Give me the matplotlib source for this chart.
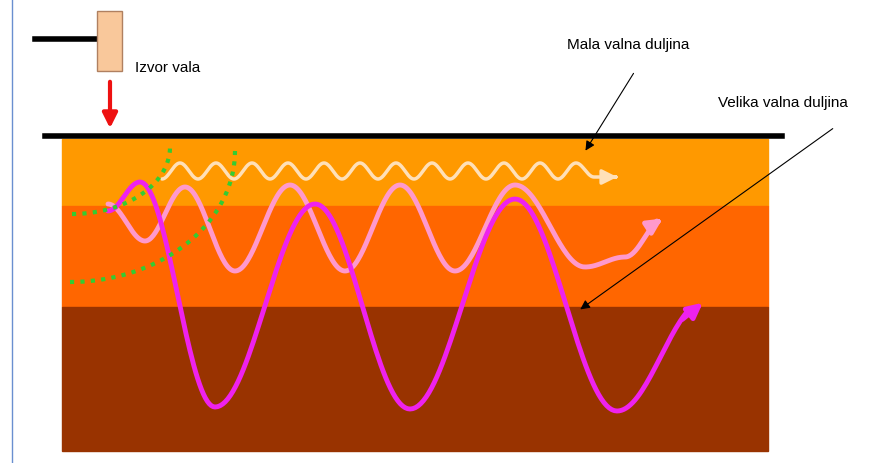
import numpy as np
import matplotlib.pyplot as plt
from matplotlib.patches import Rectangle, FancyArrowPatch

# layers: (top, bottom, colour)
layers = [(140, 207, '#FF9900'), (207, 308, '#FF6600'), (308, 452, '#993300')]

# wave extrema (x, y) in picture pixels
small_wave = [(162, 180), (180, 164), (198, 180), (216, 164), (234, 180), (252, 164), (270, 180),
              (288, 164), (306, 180), (324, 164), (342, 180), (360, 164), (378, 180), (396, 164),
              (414, 180), (432, 164), (450, 180), (468, 164), (486, 180), (504, 164), (522, 180),
              (540, 164), (558, 180), (576, 164), (594, 178), (620, 178)]
mid_wave = [(108, 205), (145, 242), (185, 188), (235, 272), (290, 186), (345, 272), (400, 186),
            (455, 272), (515, 186), (585, 268), (625, 258), (665, 218)]
big_wave = [(108, 212), (140, 183), (215, 408), (315, 205), (410, 410), (515, 200), (617, 412),
            (705, 302)]
# green wavefronts: (centre x, centre y, radius x, radius y)
fronts = [(72, 148, 98, 67), (70, 152, 165, 131)]


def smooth(pts, n=40):
    xs, ys = [], []
    for (x0, y0), (x1, y1) in zip(pts[:-1], pts[1:]):
        t = np.linspace(0, 1, n)
        s = (1 - np.cos(np.pi * t)) / 2
        xs.extend(x0 + (x1 - x0) * t)
        ys.extend(y0 + (y1 - y0) * s)
    return np.array(xs), np.array(ys)


fig = plt.figure(figsize=(8.84, 4.64), dpi=100)
ax = fig.add_axes([0, 0, 1, 1])
ax.set_xlim(0, 884)
ax.set_ylim(464, 0)
ax.axis('off')

for top, bot, col in layers:
    ax.add_patch(Rectangle((62, top), 706, bot - top, color=col, zorder=1))

ax.plot([12, 12], [0, 464], color='#6A8FD0', lw=1)
ax.plot([45, 782], [137, 137], color='black', lw=4, zorder=3)

# source
ax.plot([35, 97], [40, 40], color='black', lw=4)
ax.add_patch(Rectangle((97, 12), 25, 60, facecolor='#F9C89B', edgecolor='#B08060', lw=1, zorder=3))
ax.add_patch(FancyArrowPatch((110, 80), (110, 132), arrowstyle='-|>', mutation_scale=22,
                             color='#EE1111', lw=3))
ax.text(135, 68, 'Izvor vala', fontsize=11, va='center', family='Liberation Sans')
ax.text(567, 45, 'Mala valna duljina', fontsize=11, va='center', family='Liberation Sans')
ax.text(718, 103, 'Velika valna duljina', fontsize=11, va='center', family='Liberation Sans')
ax.add_patch(FancyArrowPatch((635, 72), (584, 154), arrowstyle='-|>', mutation_scale=14,
                             color='black', lw=0.8, zorder=5))
ax.add_patch(FancyArrowPatch((835, 128), (578, 312), arrowstyle='-|>', mutation_scale=14,
                             color='black', lw=0.8, zorder=5))

# waves
for pts, col, lw in [(small_wave, '#FFE0B8', 2.5), (mid_wave, '#FF99CC', 3.5), (big_wave, '#EE22EE', 3.5)]:
    x, y = smooth(pts)
    ax.plot(x[:-8], y[:-8], color=col, lw=lw, zorder=4, solid_capstyle='round')
    ax.add_patch(FancyArrowPatch((x[-12], y[-12]), (x[-1], y[-1]), arrowstyle='-|>',
                                 mutation_scale=22, color=col, lw=lw, zorder=4))

for cx, cy, rx, ry in fronts:
    a = np.linspace(0, np.pi / 2, 40)
    ax.plot(cx + rx * np.sin(a), cy + ry * np.cos(a),
            color='#33CC33', lw=3, ls=(0, (1, 1.5)), zorder=4)

fig.savefig('out.png')
